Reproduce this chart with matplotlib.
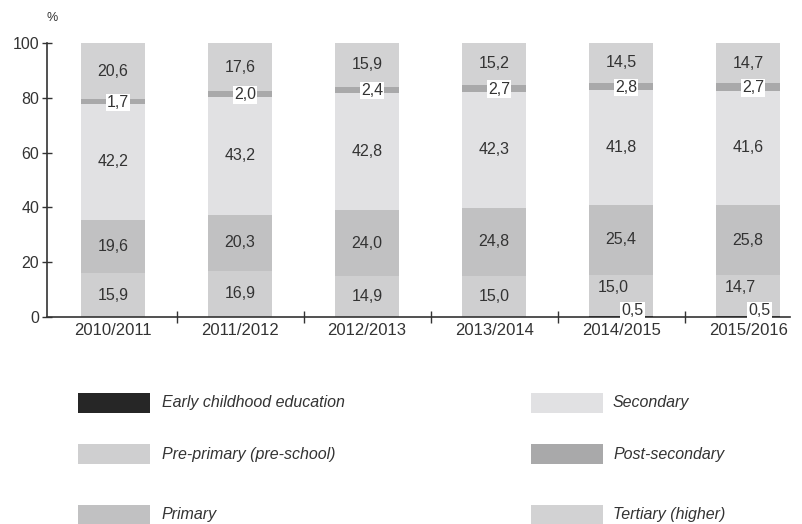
import numpy as np
import matplotlib
matplotlib.use("Agg")
import matplotlib.pyplot as plt
from matplotlib.patches import Rectangle

plt.rcParams["font.family"] = ["Liberation Sans", "DejaVu Sans"]

years = ["2010/2011", "2011/2012", "2012/2013", "2013/2014", "2014/2015", "2015/2016"]
levels = ["Early childhood education", "Pre-primary (pre-school)", "Primary",
          "Secondary", "Post-secondary", "Tertiary (higher)"]
early = [0.0, 0.0, 0.0, 0.0, 0.5, 0.5]
pre_primary = [15.9, 16.9, 14.9, 15.0, 15.0, 14.7]
primary = [19.6, 20.3, 24.0, 24.8, 25.4, 25.8]
secondary = [42.2, 43.2, 42.8, 42.3, 41.8, 41.6]
post_secondary = [1.7, 2.0, 2.4, 2.7, 2.8, 2.7]
tertiary = [20.6, 17.6, 15.9, 15.2, 14.5, 14.7]
colors = ["#262626", "#cfcfd0", "#c1c1c2", "#e1e1e3", "#a9a9aa", "#d2d2d3"]

series = [early, pre_primary, primary, secondary, post_secondary, tertiary]
txt_col = "#333333"


def fmt(v):
    return f"{v:.1f}".replace(".", ",")


fig = plt.figure(figsize=(8.03, 5.24), dpi=100)
ax = fig.add_axes([47 / 803, 207 / 524, (790 - 47) / 803, 274 / 524])

x = np.arange(len(years))
bottom = np.zeros(len(years))
for vals, col in zip(series, colors):
    ax.bar(x, vals, bottom=bottom, width=0.51, color=col, linewidth=0)
    bottom += np.array(vals)

# value labels
fs = 11.5
base = np.zeros(len(years))
for si, vals in enumerate(series):
    for i, v in enumerate(vals):
        if v == 0:
            continue
        mid = base[i] + v / 2
        if si == 0:
            ax.text(i + 0.09, base[i] + 2.3, fmt(v), ha="center", va="center",
                    fontsize=fs, color=txt_col,
                    bbox=dict(boxstyle="square,pad=0.08", fc="white", ec="none"))
        elif si == 4:
            ax.text(i + 0.04, mid - 0.3, fmt(v), ha="center", va="center",
                    fontsize=fs, color=txt_col,
                    bbox=dict(boxstyle="square,pad=0.08", fc="white", ec="none"))
        elif si == 1 and early[i] > 0:
            ax.text(i - 0.06, base[i] + v - 4.6, fmt(v), ha="center", va="center",
                    fontsize=fs, color=txt_col)
        else:
            ax.text(i, mid, fmt(v), ha="center", va="center", fontsize=fs, color=txt_col)
    base += np.array(vals)

ax.set_xlim(-0.52, 5.33)
ax.set_ylim(0, 100)
ax.set_yticks([0, 20, 40, 60, 80, 100])
ax.set_xticks(x)
ax.set_xticklabels(years)
ax.set_xticks(x[:-1] + 0.5, minor=True)
ax.tick_params(axis="x", which="major", length=0, labelsize=12, labelcolor=txt_col, pad=4)
ax.tick_params(axis="x", which="minor", length=8, direction="inout", width=1, color="#333333")
ax.tick_params(axis="y", length=7, direction="inout", width=1, color="#333333",
               labelsize=11.5, labelcolor=txt_col, pad=2)
for s in ["top", "right"]:
    ax.spines[s].set_visible(False)
for s in ["left", "bottom"]:
    ax.spines[s].set_color("#333333")
    ax.spines[s].set_linewidth(1.2)
fig.text(52 / 803, 1 - 18 / 524, "%", ha="center", va="center", fontsize=9, color=txt_col)

# legend (two columns, uneven row spacing as in source)
rows_y = [403, 454, 515]
cols_x = [(78, 162), (531, 613)]
for k, (lab, col) in enumerate(zip(levels, colors)):
    cx, tx = cols_x[k // 3]
    ry = rows_y[k % 3]
    fig.add_artist(Rectangle((cx / 803, 1 - (ry + 10) / 524), 72 / 803, 20 / 524,
                             transform=fig.transFigure, color=col, lw=0))
    fig.text(tx / 803, 1 - ry / 524, lab, ha="left", va="center", fontsize=11.5,
             style="italic", color=txt_col)

fig.savefig("out.png", dpi=100)
